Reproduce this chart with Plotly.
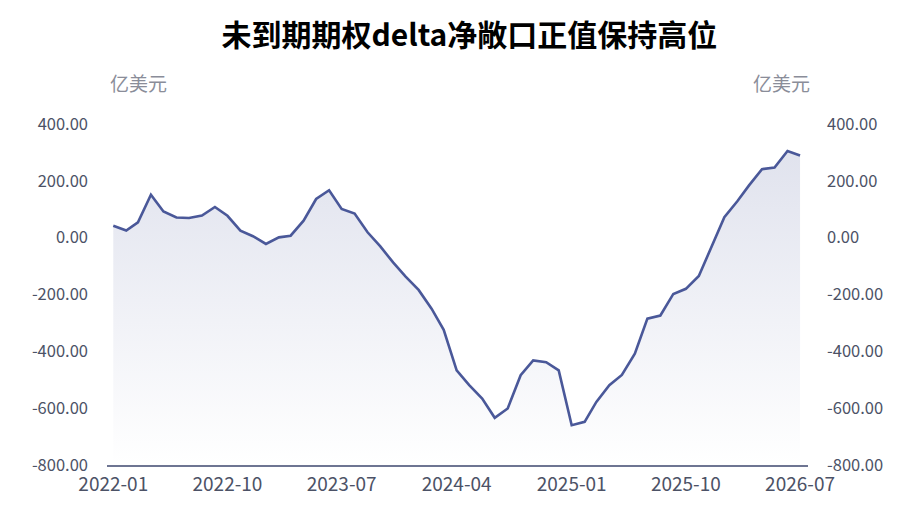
import pandas as pd
import plotly.graph_objects as go

# ---------- Data ----------

months = pd.date_range("2022-01-01", "2026-07-01", freq="MS")
net_delta = [42, 25, 54, 151, 92, 71, 69, 78, 108, 77, 25, 5,
             -22, 1, 7, 60, 136, 167, 101, 85, 19, -30, -87, -137,
             -184, -250, -324, -467, -519, -566, -634, -601, -484, -432, -438, -467,
             -660, -648, -578, -519, -483, -408, -285, -274, -198, -180, -135, -34,
             72, 128, 184, 241, 247, 305, 289]
y_ticks = [400, 200, 0, -200, -400, -600, -800]
y_floor = -800
y_top = 400

title_text = "未到期期权delta净敞口正值保持高位"
unit_text = "亿美元"

# ---------- Styling ----------

LINE = "#4a5899"
FONT = "Noto Sans CJK SC"
Y_TICK_FONT = dict(family=FONT, size=16.5, color="#4c5266")
X_TICK_FONT = dict(family=FONT, size=19, color="#4c5266")
tick_text = [f"{v:.2f}" for v in y_ticks]

fig = go.Figure()

# baseline at the bottom of the axis so the area fills down to -800
fig.add_trace(go.Scatter(
    x=months, y=[y_floor] * len(months),
    mode="lines", line=dict(width=0, color="rgba(0,0,0,0)"),
    hoverinfo="skip", showlegend=False
))
fig.add_trace(go.Scatter(
    x=months, y=net_delta,
    mode="lines",
    line=dict(color=LINE, width=2.6),
    fill="tonexty",
    fillgradient=dict(
        type="vertical",
        start=y_floor, stop=max(net_delta),
        colorscale=[[0, "rgba(74,88,153,0.0)"], [1, "rgba(74,88,153,0.17)"]],
    ),
    showlegend=False
))
# mirror trace so the right axis is drawn
fig.add_trace(go.Scatter(
    x=months, y=net_delta, yaxis="y2",
    mode="lines", line=dict(width=0, color="rgba(0,0,0,0)"),
    hoverinfo="skip", showlegend=False
))

yaxis_common = dict(
    range=[y_floor, y_top],
    tickvals=y_ticks, ticktext=tick_text,
    showgrid=False, zeroline=False, showline=False,
    ticks="", tickfont=Y_TICK_FONT, ticklabelstandoff=18,
)

fig.update_layout(
    width=916, height=512,
    margin=dict(l=99, r=116, t=116, b=55),
    paper_bgcolor="white", plot_bgcolor="white",
    font=dict(family=FONT, color="#333"),
    title=dict(
        text=f"<b>{title_text}</b>",
        x=0.517, xanchor="center", xref="paper",
        y=1 - 27 / 512, yanchor="middle", yref="container",
        font=dict(family=FONT, size=30, color="black"),
    ),
    xaxis=dict(
        type="date",
        range=["2021-12-17", "2026-07-20"],
        tick0="2022-01-01", dtick="M9", tickformat="%Y-%m",
        showgrid=False, zeroline=False,
        showline=True, linecolor="#6e7592", linewidth=1.5,
        ticks="", tickfont=X_TICK_FONT, ticklabelstandoff=1,
    ),
    yaxis=dict(side="left", **yaxis_common),
    yaxis2=dict(side="right", overlaying="y", **yaxis_common),
    annotations=[
        dict(text=unit_text, xref="paper", yref="paper", x=0, y=1,
             xanchor="center", yanchor="bottom", xshift=31, yshift=26,
             showarrow=False, font=dict(size=19, color="#8a8d99")),
        dict(text=unit_text, xref="paper", yref="paper", x=1, y=1,
             xanchor="center", yanchor="bottom", xshift=-27, yshift=26,
             showarrow=False, font=dict(size=19, color="#8a8d99")),
    ],
)

fig.write_html("out.html")
